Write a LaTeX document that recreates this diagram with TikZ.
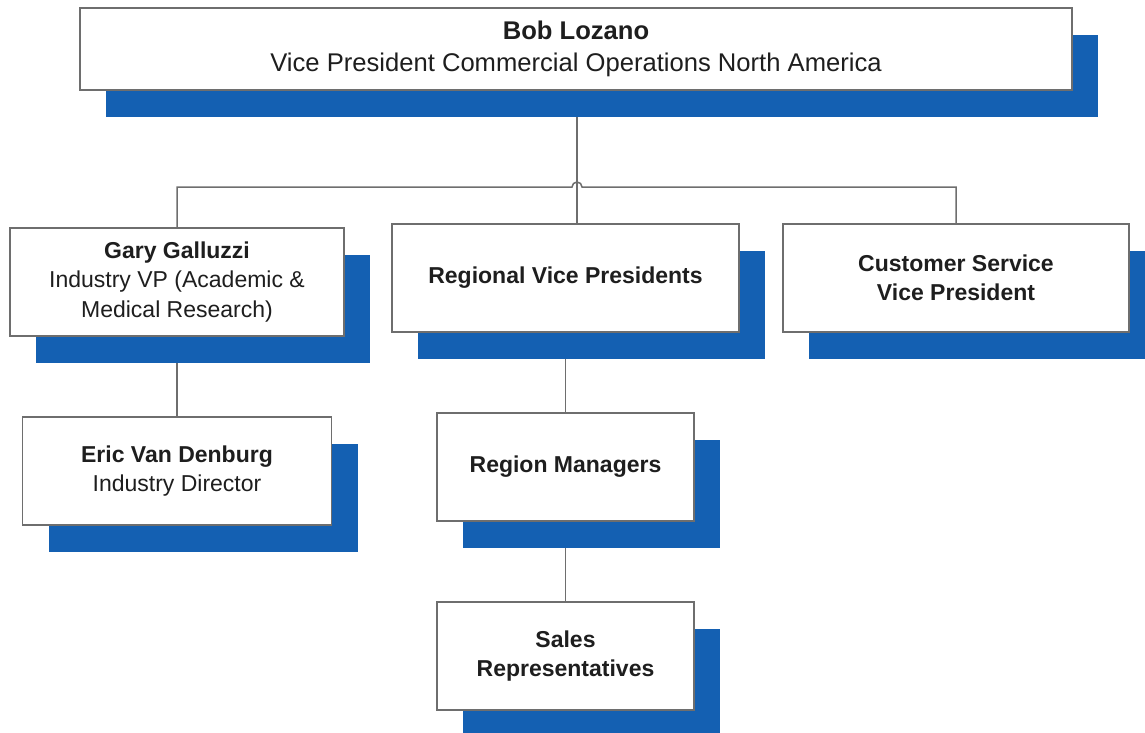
\documentclass[tikz,border=0pt]{standalone}
\usepackage{fontspec}
\setmainfont{Liberation Sans}
\usetikzlibrary{shadows,backgrounds}
\definecolor{shadowblue}{RGB}{20,96,178}
\definecolor{linegray}{RGB}{110,110,110}
\definecolor{textgray}{RGB}{30,30,30}
\tikzset{
    orgbox/.style={draw=linegray, line width=1.1pt, fill=white, text=textgray,
        align=center, inner sep=0pt,
        font=\fontsize{23}{29.5}\selectfont,
        drop shadow={shadow xshift=26pt, shadow yshift=-27pt, fill=shadowblue, opacity=1}},
    link/.style={draw=linegray, line width=1.5pt},
}

\begin{document}
\begin{tikzpicture}[x=1pt, y=-1pt]
\useasboundingbox (0,0) rectangle (1145,732);

%boxes
\node[orgbox, minimum width=992pt, minimum height=82pt, font=\fontsize{25.6}{32}\selectfont] (bob) at (576,49)
    {\textbf{Bob Lozano}\\Vice President Commercial Operations North America};
\node[orgbox, minimum width=334pt, minimum height=108pt] (gary) at (177,282)
    {\textbf{Gary Galluzzi}\\Industry VP (Academic \&\\Medical Research)};
\node[orgbox, minimum width=347pt, minimum height=108pt] (rvp) at (565.5,278)
    {\textbf{Regional Vice Presidents}};
\node[orgbox, minimum width=346pt, minimum height=108pt] (csvp) at (956,278)
    {\textbf{Customer Service}\\\textbf{Vice President}};
\node[orgbox, minimum width=309pt, minimum height=108pt] (eric) at (177,471)
    {\textbf{Eric Van Denburg}\\Industry Director};
\node[orgbox, minimum width=257pt, minimum height=108pt] (rm) at (565.5,467)
    {\textbf{Region Managers}};
\node[orgbox, minimum width=257pt, minimum height=108pt] (sales) at (565.5,656)
    {\textbf{Sales}\\\textbf{Representatives}};

%connectors
\begin{scope}[on background layer]
\coordinate (busL) at (gary.north |- 0,187);
\coordinate (busR) at (csvp.north |- 0,187);
\coordinate (top) at ([xshift=1pt]bob.south);
\draw[link] (top) -- (top |- rvp.north);
\draw[link] (gary.north) -- (busL) -- ([xshift=-5pt]top |- busL)
    arc (180:360:5) -- (busR) -- (csvp.north);
\draw[link] (gary.south) -- (eric.north);
\draw[link] (rvp.south) -- (rm.north);
\draw[link] (rm.south) -- (sales.north);
\end{scope}
\end{tikzpicture}
\end{document}
